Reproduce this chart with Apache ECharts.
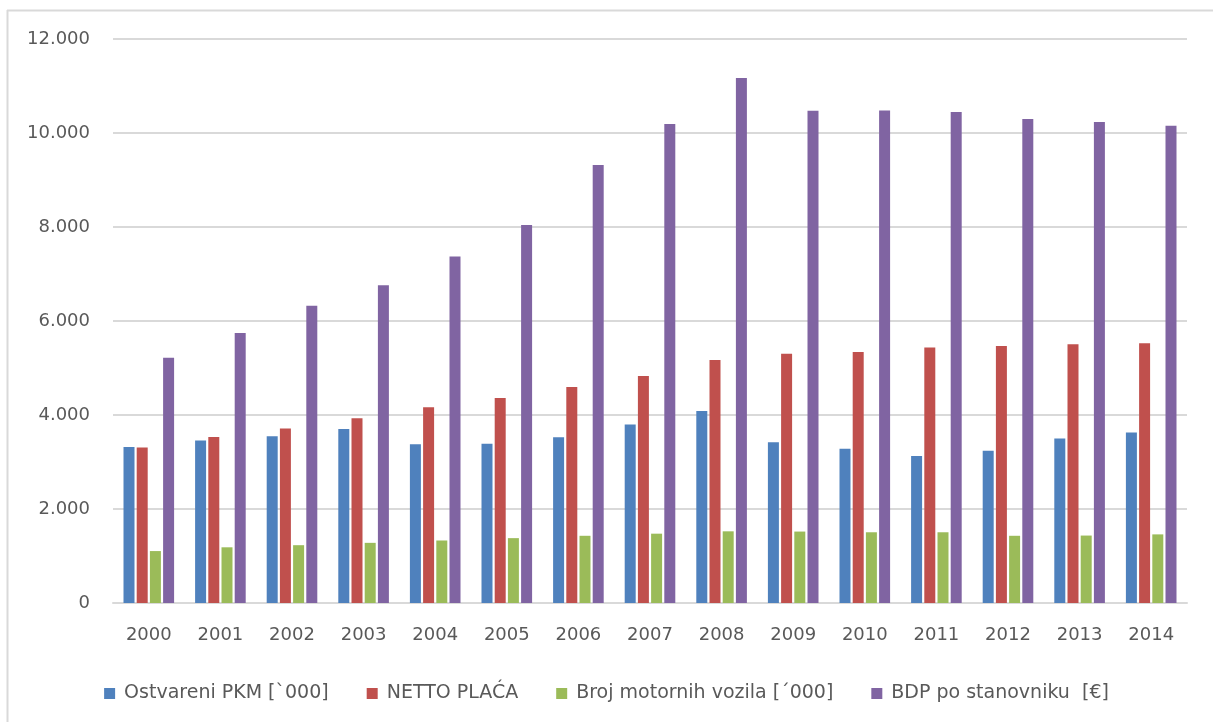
<!DOCTYPE html>
<html>
<head>
<meta charset="utf-8">
<script src="https://cdn.jsdelivr.net/npm/echarts@6/dist/echarts.min.js"></script>
<style>
html,body{margin:0;padding:0;background:#fff;}
#chart{width:1213px;height:722px;}
</style>
</head>
<body>
<div id="chart"></div>
<script>
const years = ['2000','2001','2002','2003','2004','2005','2006','2007','2008','2009','2010','2011','2012','2013','2014'];
const pkm = [3320, 3460, 3550, 3700, 3380, 3390, 3525, 3800, 4085, 3420, 3280, 3130, 3240, 3500, 3630];
const placa = [3310, 3530, 3715, 3930, 4165, 4360, 4595, 4830, 5170, 5305, 5340, 5435, 5470, 5505, 5525];
const vozila = [1105, 1185, 1230, 1280, 1330, 1380, 1430, 1475, 1525, 1520, 1505, 1505, 1430, 1435, 1460];
const bdp = [5220, 5745, 6325, 6760, 7370, 8045, 9320, 10190, 11170, 10475, 10480, 10445, 10300, 10235, 10155];
const seriesNames = ['Ostvareni PKM [`000]', 'NETTO PLAĆA', 'Broj motornih vozila [´000]', 'BDP po stanovniku  [€]'];
const colors = ['#4F81BD', '#C0504D', '#9BBB59', '#8064A2'];
const yTicks = { min: 0, max: 12000, interval: 2000 };

const font = 'DejaVu Sans';
const chart = echarts.init(document.getElementById('chart'), null, {renderer: 'canvas'});
const dataSets = [pkm, placa, vozila, bdp];
chart.setOption({
  animation: false,
  backgroundColor: '#ffffff',
  color: colors,
  grid: { left: 113, right: 26, top: 39, bottom: 119, containLabel: false },
  legend: {
    data: seriesNames,
    left: 'center',
    top: 679,
    icon: 'rect',
    itemWidth: 11,
    itemHeight: 11,
    itemGap: 38,
    textStyle: { fontFamily: font, fontSize: 19, color: '#595959', padding: [0, 0, 0, 4] }
  },
  xAxis: {
    type: 'category',
    data: years,
    axisLine: { show: true, lineStyle: { color: '#D9D9D9', width: 2 } },
    axisTick: { show: false },
    axisLabel: { fontFamily: font, fontSize: 18, color: '#595959', margin: 23 }
  },
  yAxis: {
    type: 'value',
    min: yTicks.min,
    max: yTicks.max,
    interval: yTicks.interval,
    axisLine: { show: false },
    axisTick: { show: false },
    splitLine: { lineStyle: { color: '#D9D9D9', width: 2 } },
    axisLabel: {
      fontFamily: font, fontSize: 18, color: '#595959', margin: 23,
      formatter: v => v === 0 ? '0' : v.toLocaleString('de-DE')
    }
  },
  series: dataSets.map((d, i) => ({
    name: seriesNames[i],
    type: 'bar',
    data: d,
    barWidth: 11,
    barGap: '20%',
    itemStyle: { color: colors[i] }
  })),
  graphic: [
    { type: 'line', shape: { x1: 7.5, y1: 10, x2: 7.5, y2: 722 }, style: { stroke: '#D9D9D9', lineWidth: 2 } },
    { type: 'line', shape: { x1: 7, y1: 10.5, x2: 1213, y2: 10.5 }, style: { stroke: '#D9D9D9', lineWidth: 2 } }
  ]
});
</script>
</body>
</html>
